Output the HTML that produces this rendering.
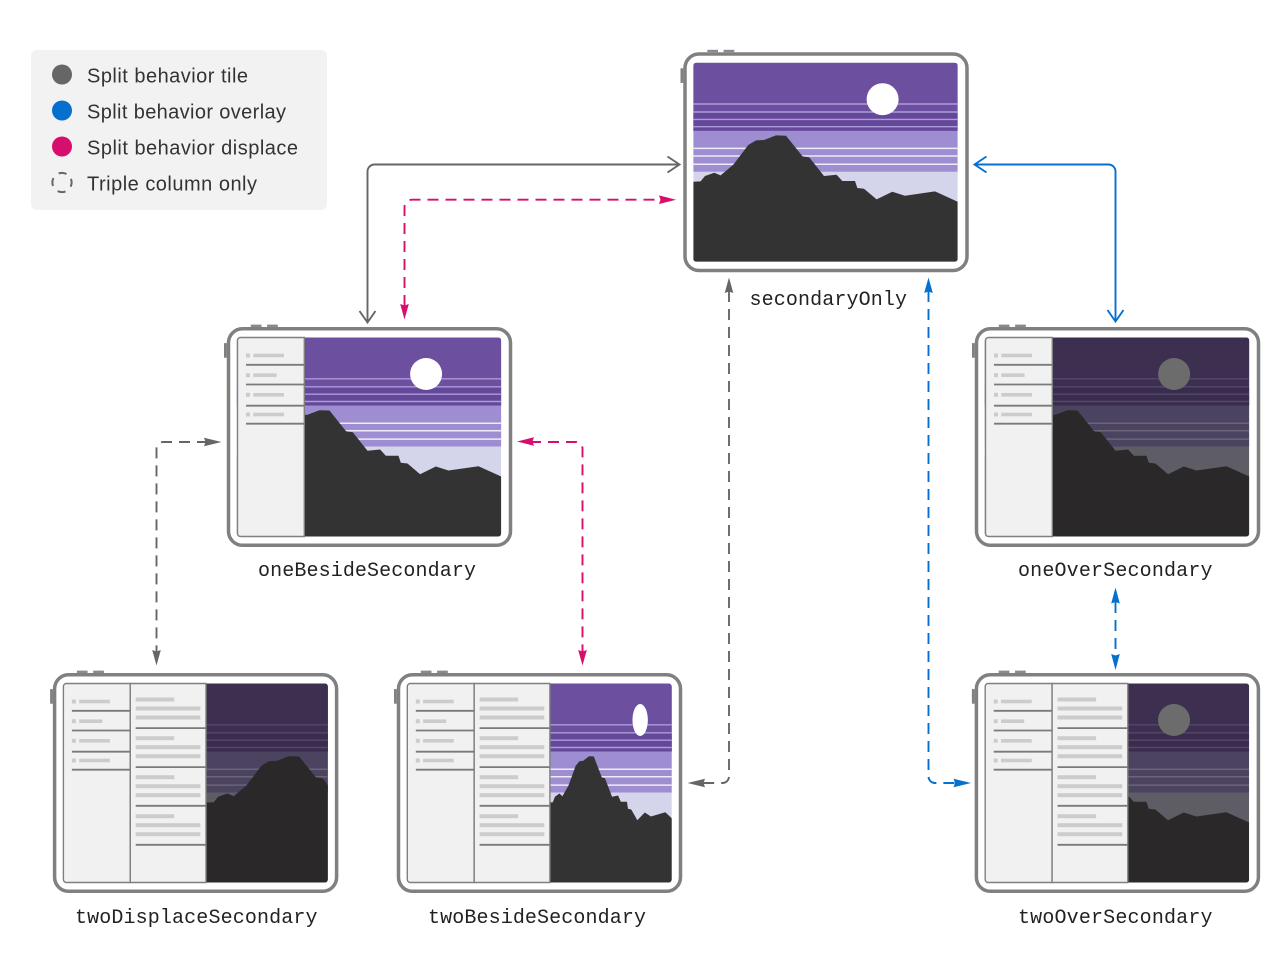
<!DOCTYPE html>
<html><head><meta charset="utf-8"><style>
html,body{margin:0;padding:0;background:#fff}
svg{display:block}
.l{font:20px "Liberation Sans",sans-serif;fill:#333}
.m{font:20px "Liberation Mono",monospace;fill:#222}
</style></head><body>
<svg width="1280" height="979" viewBox="0 0 1280 979" xmlns="http://www.w3.org/2000/svg">
<defs>
<polygon id="mt" points="0,119 7.3,118.7 11.7,113.3 21,110 27.3,112.7 40,102 55,82.3 62.7,77.7 70.7,77.3 82.7,72.7 92.7,73 109.3,93.7 116,94.7 130.7,113.3 143.3,112 149,118.3 161.7,118.3 164,125.3 170.7,126 183.3,136.7 199,129 211.7,133 241.7,128.7 264.4,139 264.4,199 0,199"/>
<path id="sl" d="M0 41.3H264.4M0 49.3H264.4M0 56.7H264.4M0 64H264.4" fill="none" stroke-width="1.4"/>
<path id="ml" d="M0 85.7H264.4M0 93.3H264.4M0 101.6H264.4" fill="none" stroke-width="1.5"/>
<g id="scene">
<rect width="264.4" height="199" fill="#d4d4ea"/>
<rect width="264.4" height="109" fill="#9e8dd0"/>
<rect width="264.4" height="68" fill="#6c4f9e"/>
<rect y="50" width="264.4" height="18" fill="#65489a"/>
<use href="#sl" stroke="#ab9cda"/>
<use href="#ml" stroke="#eeeaf8"/>
<ellipse cx="189.3" cy="36.5" rx="16" ry="16" fill="#fff"/>
<use href="#mt" fill="#333"/>
</g>
<g id="dark">
<rect width="264.4" height="199" fill="#5e5d66"/>
<rect width="264.4" height="109" fill="#4b4360"/>
<rect width="264.4" height="68" fill="#3c2f4f"/>
<rect y="50" width="264.4" height="18" fill="#3a2c4d"/>
<use href="#sl" stroke="#55486a"/>
<use href="#ml" stroke="#6a6478"/>
<circle cx="189.3" cy="36.5" r="16" fill="#6c6c6c"/>
<use href="#mt" fill="#2a2828"/>
</g>
<clipPath id="cFull"><rect width="264.4" height="199" rx="3"/></clipPath>
<clipPath id="cRight"><path d="M142 0H261.4A3 3 0 0 1 264.4 3V196A3 3 0 0 1 261.4 199H142Z"/></clipPath>
<g id="frame">
<rect x="-8.3" y="-8.7" width="282" height="216.5" rx="14" fill="#fff" stroke="#808080" stroke-width="3.5"/>
<rect x="14" y="-12.9" width="10.7" height="2.4" fill="#8a8a8a"/>
<rect x="30.3" y="-12.9" width="10.7" height="2.4" fill="#8a8a8a"/>
<rect x="-12.8" y="5.6" width="2.8" height="14.6" fill="#808080"/>
</g>
<g id="side">
<path d="M3 0H66.8V199H3A3 3 0 0 1 0 196V3A3 3 0 0 1 3 0Z" fill="#f1f1f1" stroke="#808080" stroke-width="1.4"/>
<g fill="#ccc">
<rect x="8.5" y="16" width="4" height="4"/><rect x="15.8" y="16.2" width="30.7" height="3.6"/>
<rect x="8.5" y="35.7" width="4" height="4"/><rect x="15.8" y="35.9" width="23.2" height="3.6"/>
<rect x="8.5" y="55.3" width="4" height="4"/><rect x="15.8" y="55.5" width="30.7" height="3.6"/>
<rect x="8.5" y="75" width="4" height="4"/><rect x="15.8" y="75.2" width="30.7" height="3.6"/>
</g>
<path d="M8.5 27.3H66.8M8.5 47H66.8M8.5 68.2H66.8M8.5 86.2H66.8" stroke="#7a7a7a" stroke-width="1.8" fill="none"/>
</g>
<g id="mid">
<path d="M66.8 0H142.6V199H66.8Z" fill="#f1f1f1" stroke="#808080" stroke-width="1.4"/>
<g fill="#ccc">
<rect x="72.3" y="14" width="38.6" height="4"/><rect x="72.3" y="23" width="64.7" height="4"/><rect x="72.3" y="32" width="64.7" height="4"/>
<rect x="72.3" y="52.7" width="38.6" height="4"/><rect x="72.3" y="61.7" width="64.7" height="4"/><rect x="72.3" y="70.7" width="64.7" height="4"/>
<rect x="72.3" y="91.7" width="38.6" height="4"/><rect x="72.3" y="100.7" width="64.7" height="4"/><rect x="72.3" y="109.7" width="64.7" height="4"/>
<rect x="72.3" y="130.7" width="38.6" height="4"/><rect x="72.3" y="139.7" width="64.7" height="4"/><rect x="72.3" y="148.7" width="64.7" height="4"/>
</g>
<path d="M72.3 44.6H142.6M72.3 83.6H142.6M72.3 122.3H142.6M72.3 161.3H142.6" stroke="#7a7a7a" stroke-width="1.8" fill="none"/>
</g>
</defs>

<rect width="1280" height="979" fill="#fff"/>

<!-- legend -->
<rect x="31" y="50" width="296" height="160" rx="6" fill="#f2f2f2"/>
<circle cx="62" cy="74.5" r="10" fill="#666"/>
<circle cx="62" cy="110.5" r="10" fill="#0670cf"/>
<circle cx="62" cy="146.5" r="10" fill="#d70f6c"/>
<circle cx="62" cy="182.5" r="9.6" fill="none" stroke="#666" stroke-width="2" stroke-dasharray="8 7.08" transform="rotate(-22 62 182.5)"/>
<text class="l" x="87" y="82.7" textLength="161">Split behavior tile</text>
<text class="l" x="87" y="118.7" textLength="199">Split behavior overlay</text>
<text class="l" x="87" y="154.5" textLength="211">Split behavior displace</text>
<text class="l" x="87" y="190.3" textLength="170">Triple column only</text>

<!-- secondaryOnly -->
<g transform="translate(693.3 62.7)">
<use href="#frame"/>
<g clip-path="url(#cFull)"><use href="#scene"/></g>
</g>
<!-- oneBesideSecondary -->
<g transform="translate(237.5 337.5)">
<g transform="translate(-.7 0)"><use href="#frame"/>
<g clip-path="url(#cFull)"><use href="#scene"/></g></g>
<use href="#side"/>
</g>
<!-- oneOverSecondary -->
<g transform="translate(985.5 337.5)">
<g transform="translate(-.7 0)"><use href="#frame"/>
<g clip-path="url(#cFull)"><use href="#dark"/></g></g>
<use href="#side"/>
</g>
<!-- twoDisplaceSecondary -->
<g transform="translate(63.4 683.5)">
<g transform="translate(-.5 0)"><use href="#frame"/></g>
<g clip-path="url(#cRight)"><g transform="translate(143 0)"><use href="#dark"/></g></g>
<use href="#mid"/><use href="#side"/>
</g>
<!-- twoBesideSecondary -->
<g transform="translate(407.3 683.5)">
<g transform="translate(-.5 0)"><use href="#frame"/></g>
<g clip-path="url(#cRight)"><g transform="translate(142 0) scale(.48 1)"><use href="#scene"/></g></g>
<use href="#mid"/><use href="#side"/>
</g>
<!-- twoOverSecondary -->
<g transform="translate(985.2 683.5)">
<g transform="translate(-.5 0)"><use href="#frame"/>
<g clip-path="url(#cFull)"><use href="#dark"/></g></g>
<use href="#mid"/><use href="#side"/>
</g>

<!-- labels -->
<text class="m" x="749.5" y="305" textLength="157.5">secondaryOnly</text>
<text class="m" x="258" y="576" textLength="218">oneBesideSecondary</text>
<text class="m" x="1018" y="576" textLength="194.5">oneOverSecondary</text>
<text class="m" x="75" y="923" textLength="242.5">twoDisplaceSecondary</text>
<text class="m" x="428" y="923" textLength="218">twoBesideSecondary</text>
<text class="m" x="1018" y="923" textLength="194.5">twoOverSecondary</text>

<!-- solid gray -->
<g fill="none" stroke="#666" stroke-width="1.9">
<path d="M367.5 321V171.5A7 7 0 0 1 374.5 164.5H679"/>
<path d="M667.5 156.5L679.5 164.5L667.5 172.5"/>
<path d="M359.5 311L367.5 322.5L375.5 311"/>
</g>
<!-- solid blue -->
<g fill="none" stroke="#0670cf" stroke-width="1.9">
<path d="M975 164.5H1108.5A7 7 0 0 1 1115.5 171.5V320"/>
<path d="M986.5 156.5L974.5 164.5L986.5 172.5"/>
<path d="M1107.5 310L1115.5 321.5L1123.5 310"/>
</g>
<!-- dashed pink -->
<g fill="none" stroke="#d70f6c" stroke-width="1.9" stroke-dasharray="11 7">
<path d="M404.5 306V207A7.5 7.5 0 0 1 412 199.7H662"/>
<path d="M530 442H576A6.5 6.5 0 0 1 582.5 448.5V652"/>
</g>
<g fill="#d70f6c">
<path d="M676 199.7L659 195.4L660.5 199.7L659 204Z"/>
<path d="M404.5 319.5L400.2 304L404.5 305.5L408.8 304Z"/>
<path d="M517 441.5L534 437.2L532.5 441.5L534 445.8Z"/>
<path d="M582.5 665.5L578.2 650L582.5 651.5L586.8 650Z"/>
</g>
<!-- dashed gray -->
<g fill="none" stroke="#666" stroke-width="1.9" stroke-dasharray="11 7">
<path d="M208 442H163A6.5 6.5 0 0 0 156.5 448.5V652"/>
<path d="M729 291V776.5A6.5 6.5 0 0 1 722.5 783H702"/>
</g>
<g fill="#666">
<path d="M221.5 442L204 437.7L205.5 442L204 446.3Z"/>
<path d="M156.5 665.5L152.2 650L156.5 651.5L160.8 650Z"/>
<path d="M729 277.5L724.7 293L729 291.5L733.3 293Z"/>
<path d="M687.5 783L705 778.7L703.5 783L705 787.3Z"/>
</g>
<!-- dashed blue -->
<g fill="none" stroke="#0670cf" stroke-width="1.9" stroke-dasharray="11 7">
<path d="M928.5 291V776.5A6.5 6.5 0 0 0 935 783H956"/>
<path d="M1115.5 602V656"/>
</g>
<g fill="#0670cf">
<path d="M928.5 277.5L924.2 293L928.5 291.5L932.8 293Z"/>
<path d="M971 783L953.5 778.7L955 783L953.5 787.3Z"/>
<path d="M1115.5 587.5L1111.2 603.5L1115.5 602L1119.8 603.5Z"/>
<path d="M1115.5 670L1111.2 654L1115.5 655.5L1119.8 654Z"/>
</g>
</svg>
</body></html>
